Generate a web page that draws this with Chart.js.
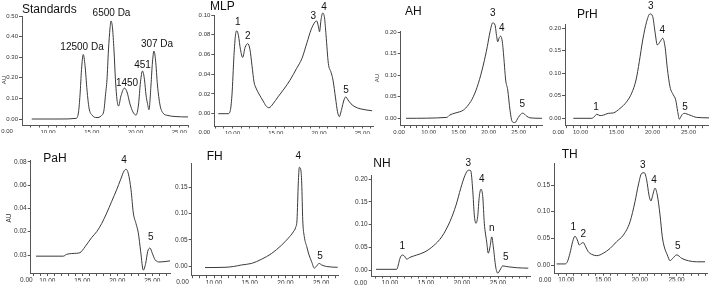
<!DOCTYPE html>
<html><head><meta charset="utf-8">
<script src="https://cdn.jsdelivr.net/npm/chart.js@4/dist/chart.umd.min.js"></script>
<style>
html,body{margin:0;padding:0;background:#fff;width:709px;height:287px;overflow:hidden}
#wrap{position:relative;width:709px;height:287px}
canvas{position:absolute;left:0;top:0}
</style></head><body>
<div id="wrap"></div>
<script>
// ---------- data (time in min, absorbance in AU) ----------
const stdTime = [8.14,11.37,13.2,13.49,13.66,13.83,14.03,14.23,14.46,14.69,15.03,15.6,16.06,16.4,16.57,16.74,16.91,17.09,17.2,17.37,17.54,17.71,17.89,18.06,18.34,18.74,19.03,19.37,19.71,20.06,20.34,20.57,20.8,21.03,21.2,21.37,21.54,21.77,21.94,22.11,22.29,22.51,22.8,23.14,23.71,24.51,26.0];
const stdAU   = [0,0,0.003,0.034,0.117,0.24,0.313,0.26,0.14,0.053,0.019,0.007,0.015,0.044,0.117,0.19,0.335,0.442,0.476,0.442,0.335,0.19,0.092,0.063,0.112,0.15,0.131,0.073,0.034,0.019,0.068,0.18,0.233,0.19,0.117,0.075,0.045,0.165,0.277,0.33,0.286,0.165,0.068,0.029,0.017,0.012,0.01];
const stdYTicks = [0,0.1,0.2,0.3,0.4,0.5];
const stdYLabels = ['0.00','0.10','0.20','0.30','0.40','0.50'];
const stdPeakText = ['12500 Da','6500 Da','1450','451','307 Da'];
const stdPeakTime = [13.89,17.26,19.03,20.8,22.46];
const stdPeakAU   = [0.347,0.515,0.175,0.262,0.364];

const mlpTime = [8.36,9.48,9.71,9.94,10.17,10.35,10.49,10.69,10.92,11.18,11.45,11.76,12.02,12.25,12.49,12.72,13.06,13.53,13.87,14.22,14.68,15.26,15.95,16.65,17.42,18.03,18.61,19.08,19.54,19.73,19.94,20.06,20.23,20.43,20.64,20.81,21.08,21.39,21.62,21.91,22.14,22.35,22.6,22.89,23.09,23.35,23.7,24.16,24.74,26.13];
const mlpAU   = [0,0,0.002,0.019,0.059,0.080,0.084,0.079,0.065,0.057,0.067,0.071,0.065,0.049,0.032,0.026,0.020,0.013,0.008,0.006,0.010,0.017,0.025,0.034,0.046,0.056,0.072,0.085,0.093,0.094,0.088,0.083,0.095,0.102,0.097,0.080,0.051,0.042,0.034,0.016,0.002,-0.003,0.004,0.014,0.017,0.014,0.010,0.007,0.005,0.003];
const mlpYTicks = [0,0.02,0.04,0.06,0.08,0.10];
const mlpYLabels = ['0.00','0.02','0.04','0.06','0.08','0.10'];
const mlpPeakText = ['1','2','3','4','5'];
const mlpPeakTime = [10.6,11.76,19.34,20.58,23.12];
const mlpPeakAU   = [0.0922,0.078,0.0983,0.1078,0.0233];

const ahTime = [6.22,13.0,13.55,14.38,15.77,16.6,17.43,18.27,19.1,19.77,20.22,20.67,21.05,21.33,21.5,21.77,22.0,22.27,22.55,22.83,23.17,23.55,23.93,24.38,24.93,25.67,26.33,26.88,28.88];
const ahAU   = [0,0.002,0.008,0.012,0.019,0.031,0.05,0.081,0.124,0.167,0.201,0.222,0.217,0.19,0.178,0.188,0.191,0.178,0.136,0.089,0.066,0.019,-0.008,-0.01,0.002,0.012,0.005,0.001,0];
const ahYTicks = [0,0.05,0.1,0.15,0.2];
const ahYLabels = ['0.00','0.05','0.10','0.15','0.20'];
const ahPeakText = ['3','4','5'];
const ahPeakTime = [20.67,22.17,25.6];
const ahPeakAU   = [0.244,0.209,0.0333];

const prhTime = [9.0,11.56,12.01,12.25,12.71,13.17,13.86,14.56,15.49,16.42,17.11,17.71,18.17,18.64,19.19,19.65,20.03,20.35,20.67,21.04,21.42,21.74,22.06,22.43,22.89,23.22,23.5,23.72,24.06,24.38,25.21,26.14,27.85];
const prhAU   = [0,0,0.005,0.009,0.006,0.007,0.011,0.012,0.022,0.037,0.056,0.085,0.126,0.174,0.215,0.232,0.226,0.192,0.163,0.17,0.178,0.159,0.111,0.07,0.052,0.041,0.015,-0.002,0.007,0.011,0.007,0.002,0.001];
const prhYTicks = [0,0.05,0.1,0.15,0.2];
const prhYLabels = ['0.00','0.05','0.10','0.15','0.20'];
const prhPeakText = ['1','3','4','5'];
const prhPeakTime = [12.15,19.75,21.36,24.51];
const prhPeakAU   = [0.0244,0.2496,0.1947,0.0244];

const pahTime = [8.39,12.29,12.77,14.2,14.67,15.39,16.34,17.06,17.77,18.49,19.2,19.91,20.49,20.96,21.24,21.57,21.96,22.29,22.67,23.0,23.34,23.71,24.06,24.34,24.67,25.0,25.39,26.1,27.53];
const pahAU   = [-0.001,-0.001,0.0006,0.0015,0.002,0.007,0.015,0.020,0.027,0.036,0.046,0.056,0.065,0.072,0.0735,0.070,0.056,0.036,0.027,0.019,0.003,-0.013,-0.007,0.003,0.006,0.0015,-0.004,-0.006,-0.005];
const pahYTicks = [0,0.02,0.04,0.06,0.08];
const pahYLabels = ['0.03','0.02','0.04','0.06','0.08'];
const pahPeakText = ['4','5'];
const pahPeakTime = [20.96,24.77];
const pahPeakAU   = [0.0809,0.0148];

const fhTime = [8.74,11.54,12.7,13.87,15.27,16.67,18.07,19.47,20.39,21.09,21.43,21.61,21.79,21.93,22.13,22.27,22.41,22.63,22.97,23.29,23.66,24.03,24.36,24.69,25.06,25.76,27.3];
const fhAU   = [-0.003,-0.0025,-0.001,0.002,0.005,0.013,0.024,0.040,0.053,0.065,0.074,0.088,0.158,0.188,0.184,0.158,0.088,0.056,0.037,0.021,0.008,-0.004,0,0.005,0.002,-0.001,-0.0025];
const fhYTicks = [0,0.05,0.1,0.15];
const fhYLabels = ['0.00','0.05','0.10','0.15'];
const fhPeakText = ['4','5'];
const fhPeakTime = [21.79,24.83];
const fhPeakAU   = [0.2083,0.0191];

const nhTime = [8.06,10.93,11.15,11.39,11.71,11.99,12.32,12.78,13.71,14.86,16.01,17.18,18.33,19.17,19.82,20.42,20.88,21.21,21.49,21.71,21.94,22.18,22.4,22.64,22.88,23.1,23.43,23.65,23.89,24.13,24.35,24.68,24.96,25.28,25.65,26.43,27.6,29.21];
const nhAU   = [0.0015,0.0015,0.011,0.026,0.033,0.031,0.024,0.028,0.033,0.040,0.053,0.073,0.107,0.143,0.180,0.209,0.22,0.219,0.176,0.121,0.103,0.118,0.162,0.178,0.162,0.103,0.062,0.037,0.051,0.073,0.051,0.007,-0.007,0,0.009,0.007,0.005,0.004];
const nhYTicks = [0,0.05,0.1,0.15,0.2];
const nhYLabels = ['0.00','0.05','0.10','0.15','0.20'];
const nhPeakText = ['1','3','4','n','5'];
const nhPeakTime = [11.71,20.88,22.74,24.13,26.07];
const nhPeakAU   = [0.0514,0.2353,0.2,0.092,0.028];

const thTime = [8.69,9.82,10.14,10.5,10.87,11.18,11.5,11.77,12.1,12.31,12.64,12.99,13.46,14.14,15.03,15.95,16.86,17.76,18.67,19.35,19.8,20.26,20.61,20.94,21.25,21.52,21.76,22.07,22.38,22.75,23.06,23.33,23.74,24.11,24.48,25.02,25.7,26.6,27.74,28.87];
const thAU   = [0.002,0.002,0.006,0.022,0.044,0.054,0.047,0.0375,0.041,0.042,0.034,0.025,0.020,0.0175,0.022,0.031,0.044,0.056,0.081,0.119,0.15,0.172,0.173,0.159,0.131,0.12,0.131,0.144,0.131,0.094,0.053,0.034,0.019,0.008,0.0125,0.019,0.0125,0.008,0.006,0.006];
const thYTicks = [0,0.05,0.1,0.15];
const thYLabels = ['0.00','0.05','0.10','0.15'];
const thPeakText = ['1','2','3','4','5'];
const thPeakTime = [10.95,12.31,20.39,21.93,25.16];
const thPeakAU   = [0.0707,0.0576,0.1875,0.158,0.0356];

// ---------- layout (pixel frame of each panel; axis calibration) ----------
const FONT = '"Liberation Sans", Arial, sans-serif';
const YW = 20, XH = 8, W = 709, H = 287;
const panels = [
  {title:'Standards', time:stdTime, au:stdAU, yTicks:stdYTicks, yLabels:stdYLabels, pText:stdPeakText, pTime:stdPeakTime, pAU:stdPeakAU,
   L:{left:22,right:188,top:16,bottom:125,x10:48,xk:8.75,y0:119,yk:206,fs:6,zeroX:7,titleX:22,titleY:13,auX:4,auY:80}},
  {title:'MLP', time:mlpTime, au:mlpAU, yTicks:mlpYTicks, yLabels:mlpYLabels, pText:mlpPeakText, pTime:mlpPeakTime, pAU:mlpPeakAU,
   L:{left:214.3,right:373,top:15,bottom:126,x10:232.5,xk:8.65,y0:113.7,yk:987,fs:6,zeroX:204.3,titleX:210,titleY:9.5}},
  {title:'AH', time:ahTime, au:ahAU, yTicks:ahYTicks, yLabels:ahYLabels, pText:ahPeakText, pTime:ahPeakTime, pAU:ahPeakAU,
   L:{left:400.7,right:542,top:31,bottom:125.5,x10:428.7,xk:6,y0:118.3,yk:430,fs:6,zeroX:399,titleX:405,titleY:15,auX:377,auY:78}},
  {title:'PrH', time:prhTime, au:prhAU, yTicks:prhYTicks, yLabels:prhYLabels, pText:prhPeakText, pTime:prhPeakTime, pAU:prhPeakAU,
   L:{left:565,right:709,top:24,bottom:125.7,x10:580.5,xk:7.2,y0:118.3,yk:450,fs:6,zeroX:558.3,titleX:577,titleY:18.3}},
  {title:'PaH', time:pahTime, au:pahAU, yTicks:pahYTicks, yLabels:pahYLabels, pText:pahPeakText, pTime:pahPeakTime, pAU:pahPeakAU,
   L:{left:30.7,right:171,top:160,bottom:273.5,x10:47.3,xk:7,y0:255,yk:1166,fs:6.5,zeroX:26.3,titleX:43.3,titleY:161.7,auX:9.3,auY:218}},
  {title:'FH', time:fhTime, au:fhAU, yTicks:fhYTicks, yLabels:fhYLabels, pText:fhPeakText, pTime:fhPeakTime, pAU:fhPeakAU,
   L:{left:191.7,right:339,top:163.3,bottom:275.7,x10:214,xk:7.15,y0:266,yk:524.7,fs:6.5,zeroX:182.5,titleX:206.7,titleY:160}},
  {title:'NH', time:nhTime, au:nhAU, yTicks:nhYTicks, yLabels:nhYLabels, pText:nhPeakText, pTime:nhPeakTime, pAU:nhPeakAU,
   L:{left:371.7,right:530,top:175,bottom:276,x10:390,xk:7.2,y0:270,yk:453.5,fs:6.5,zeroX:360.7,titleX:373.3,titleY:166.7}},
  {title:'TH', time:thTime, au:thAU, yTicks:thYTicks, yLabels:thYLabels, pText:thPeakText, pTime:thPeakTime, pAU:thPeakAU,
   L:{left:554,right:707,top:163.3,bottom:273.3,x10:566.3,xk:7.35,y0:265,yk:533.3,fs:6.5,zeroX:545,titleX:561.7,titleY:158.3}}
];

function textPlugin(p){
  return {id:'txt', afterDraw(chart){
    const ctx = chart.ctx, xs = chart.scales.x, ys = chart.scales.y, L = p.L;
    ctx.save();
    ctx.fillStyle = '#111';
    ctx.font = '12px ' + FONT; ctx.textAlign = 'left'; ctx.textBaseline = 'alphabetic';
    ctx.fillText(p.title, L.titleX, L.titleY);
    ctx.font = '10px ' + FONT; ctx.textAlign = 'center'; ctx.textBaseline = 'middle';
    p.pText.forEach((t,i)=>ctx.fillText(t, xs.getPixelForValue(p.pTime[i]), ys.getPixelForValue(p.pAU[i])));
    ctx.fillStyle = '#333';
    ctx.font = L.fs + 'px ' + FONT; ctx.textAlign = 'center'; ctx.textBaseline = 'top';
    ctx.fillText('0.00', L.zeroX, chart.chartArea.bottom + 3.5);
    if (L.auX !== undefined) {
      ctx.translate(L.auX, L.auY); ctx.rotate(-Math.PI/2);
      ctx.textBaseline = 'middle'; ctx.fillText('AU', 0, 0);
    }
    ctx.restore();
  }};
}

const wrap = document.getElementById('wrap');
panels.forEach(p=>{
  const L = p.L;
  const xmin = 10 + (L.left - L.x10)/L.xk, xmax = 10 + (L.right - L.x10)/L.xk;
  const ymax = (L.y0 - L.top)/L.yk, ymin = (L.y0 - L.bottom)/L.yk;
  const xt = []; for (let v = Math.ceil(xmin); v <= Math.floor(xmax); v++) xt.push(v);
  const cv = document.createElement('canvas');
  cv.width = W; cv.height = H; cv.style.width = W+'px'; cv.style.height = H+'px';
  wrap.appendChild(cv);
  new Chart(cv, {
    type:'line',
    data:{datasets:[{data:p.time.map((t,i)=>({x:t,y:p.au[i]})), borderColor:'#3a3a3a', borderWidth:1,
      pointRadius:0, fill:false, cubicInterpolationMode:'monotone', clip:false}]},
    options:{
      responsive:false, animation:false, events:[], devicePixelRatio:1,
      layout:{padding:{left:L.left-YW, right:W-L.right, top:L.top, bottom:Math.max(0,H-L.bottom-XH)}},
      plugins:{legend:{display:false}, tooltip:{enabled:false}, title:{display:false}},
      scales:{
        x:{type:'linear', min:xmin, max:xmax, bounds:'data',
          afterFit:s=>{s.height = XH;},
          afterBuildTicks:s=>{s.ticks = xt.map(v=>({value:v}));},
          ticks:{autoSkip:false, maxRotation:0, minRotation:0, padding:1, color:'#333',
            font:{size:L.fs, family:FONT}, callback:v=>(v%5===0 ? v.toFixed(2) : '')},
          grid:{display:true, drawOnChartArea:false, drawTicks:true, tickLength:2.5, color:'#555'},
          border:{display:true, color:'#555', width:1}},
        y:{type:'linear', min:ymin, max:ymax, bounds:'data',
          afterFit:s=>{s.width = YW;},
          afterBuildTicks:s=>{s.ticks = p.yTicks.map(v=>({value:v}));},
          ticks:{autoSkip:false, padding:1, color:'#333', font:{size:L.fs, family:FONT},
            callback:(v,i)=>p.yLabels[i]},
          grid:{display:true, drawOnChartArea:false, drawTicks:true, tickLength:3, color:'#555'},
          border:{display:true, color:'#555', width:1}}
      }
    },
    plugins:[textPlugin(p)]
  });
});
</script>
</body></html>
